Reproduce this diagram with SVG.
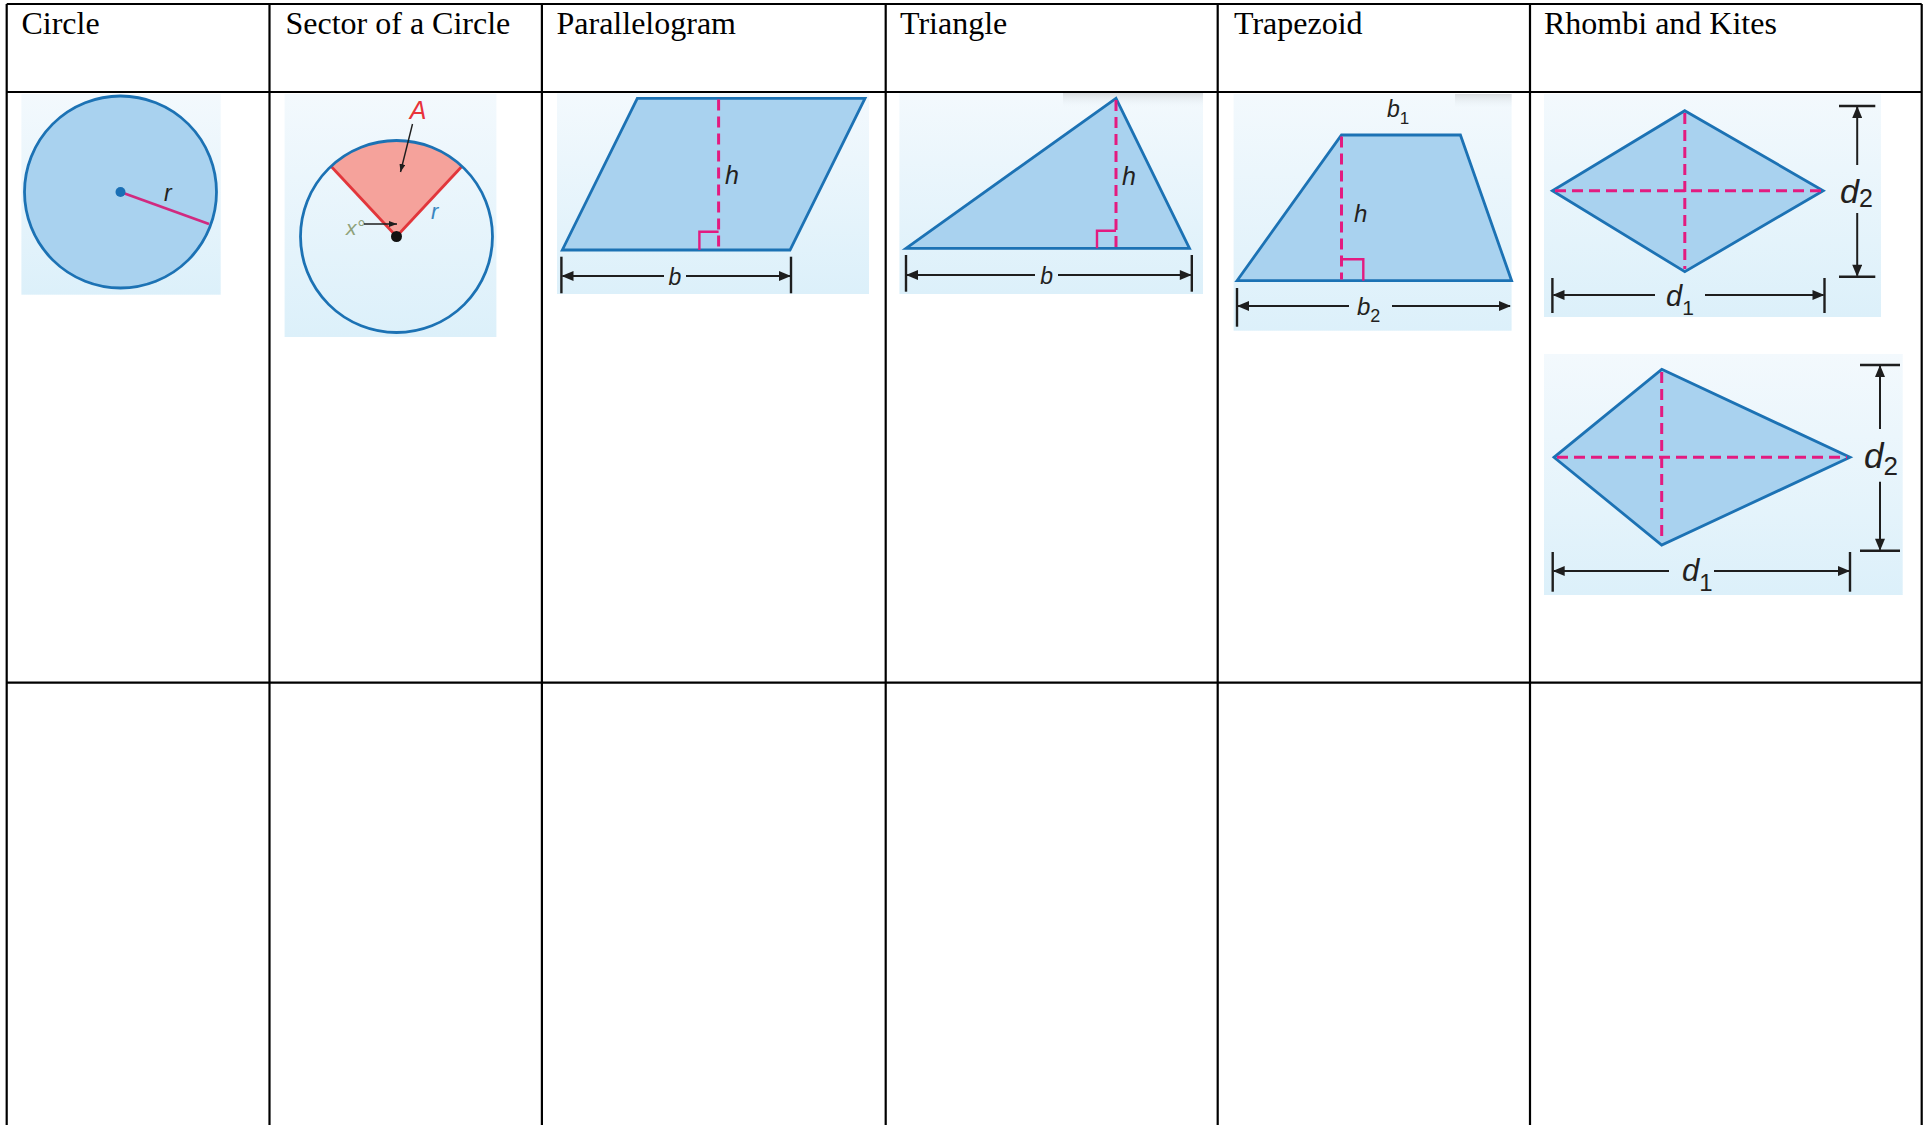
<svg xmlns="http://www.w3.org/2000/svg" width="1931" height="1125" viewBox="0 0 1931 1125">
<defs>
<linearGradient id="bg" x1="0" y1="0" x2="0" y2="1">
<stop offset="0" stop-color="#f3f9fd"/>
<stop offset="1" stop-color="#dcf0fa"/>
</linearGradient>
<linearGradient id="shadow" x1="0" y1="0" x2="0" y2="1">
<stop offset="0" stop-color="#d3d6d9" stop-opacity="0.8"/>
<stop offset="1" stop-color="#e8f2f8" stop-opacity="0"/>
</linearGradient>
<marker id="ah" viewBox="0 0 12 10" refX="11" refY="5" markerWidth="13" markerHeight="10" markerUnits="userSpaceOnUse" orient="auto-start-reverse">
<path d="M0,0 L12,5 L0,10 Z" fill="#1e1e1e"/>
</marker>
<marker id="ahs" viewBox="0 0 8 6" refX="8" refY="3" markerWidth="8" markerHeight="6" markerUnits="userSpaceOnUse" orient="auto">
<path d="M0,0 L8,3 L0,6 Z" fill="#1e1e1e"/>
</marker>
</defs>
<style>
.grid{stroke:#000;stroke-width:2.2;fill:none}
.hdr{font-family:"Liberation Serif","Times New Roman",serif;font-size:32px;fill:#000}
.shape{fill:#a9d2ef;stroke:#1c72b4;stroke-width:2.8;stroke-linejoin:miter}
.dash{stroke:#e31b80;stroke-width:3;stroke-dasharray:11 6;fill:none}
.ra{stroke:#e31b80;stroke-width:2.4;fill:none}
.dim{stroke:#1e1e1e;stroke-width:2;fill:none}
.tick{stroke:#1e1e1e;stroke-width:2.4}
.lbl{font-family:"Liberation Sans",Arial,sans-serif;font-style:italic;fill:#231f20}
</style>

<g id="table">
<line class="grid" x1="6.7" y1="4" x2="1921.7" y2="4"/>
<line class="grid" x1="6.7" y1="92" x2="1921.7" y2="92"/>
<line class="grid" x1="6.7" y1="682.7" x2="1921.7" y2="682.7"/>
<line class="grid" x1="6.7" y1="4" x2="6.7" y2="1125"/>
<line class="grid" x1="269.5" y1="4" x2="269.5" y2="1125"/>
<line class="grid" x1="541.9" y1="4" x2="541.9" y2="1125"/>
<line class="grid" x1="885.7" y1="4" x2="885.7" y2="1125"/>
<line class="grid" x1="1217.7" y1="4" x2="1217.7" y2="1125"/>
<line class="grid" x1="1530" y1="4" x2="1530" y2="1125"/>
<line class="grid" x1="1921.7" y1="4" x2="1921.7" y2="1125"/>
</g>

<g id="headers">
<text class="hdr" x="21.4" y="34">Circle</text>
<text class="hdr" x="285.5" y="34">Sector of a Circle</text>
<text class="hdr" x="556.5" y="34">Parallelogram</text>
<text class="hdr" x="900" y="34">Triangle</text>
<text class="hdr" x="1234" y="34">Trapezoid</text>
<text class="hdr" x="1544" y="34">Rhombi and Kites</text>
</g>

<g id="circle">
<rect x="21.4" y="94" width="199.3" height="200.7" fill="url(#bg)"/>
<circle class="shape" cx="120.5" cy="192" r="96"/>
<line x1="120.5" y1="192" x2="209" y2="224" stroke="#d12a80" stroke-width="2.8"/>
<circle cx="120.5" cy="192" r="5" fill="#1a6fb5"/>
<text class="lbl" x="164" y="201" font-size="23">r</text>
</g>

<g id="sector">
<rect x="284.6" y="94" width="211.8" height="243" fill="url(#bg)"/>
<path d="M396.5,236.5 L331,166.3 A96,96 0 0 1 462,166.3 Z" fill="#f5a29b"/>
<line x1="396.5" y1="236.5" x2="331" y2="166.3" stroke="#e2363b" stroke-width="2.8"/>
<line x1="396.5" y1="236.5" x2="462" y2="166.3" stroke="#e2363b" stroke-width="2.8"/>
<circle cx="396.5" cy="236.5" r="96" fill="none" stroke="#1c72b4" stroke-width="2.8"/>
<circle cx="396.5" cy="236.5" r="5.5" fill="#111"/>
<text class="lbl" x="418" y="119" font-size="25" style="fill:#e8333a" text-anchor="middle">A</text>
<line x1="412.5" y1="124" x2="400.5" y2="172" stroke="#1e1e1e" stroke-width="1.4" marker-end="url(#ahs)"/>
<text class="lbl" x="346" y="235" font-size="21" style="fill:#8fa27a">x°</text>
<line x1="364" y1="224" x2="397" y2="224" stroke="#1e1e1e" stroke-width="1.4" marker-end="url(#ahs)"/>
<text class="lbl" x="431" y="219" font-size="22" style="fill:#3a86c0">r</text>
</g>

<g id="parallelogram">
<rect x="557" y="93.3" width="312" height="200.7" fill="url(#bg)"/>
<polygon class="shape" points="637.3,98.3 865,98.3 790,250 562.3,250"/>
<line class="dash" x1="718.6" y1="99.5" x2="718.6" y2="249"/>
<polyline class="ra" points="699.4,250 699.4,231.7 718.6,231.7"/>
<text class="lbl" x="725" y="184" font-size="25">h</text>
<line class="tick" x1="561.4" y1="256.7" x2="561.4" y2="293.3"/>
<line class="tick" x1="791" y1="256.7" x2="791" y2="293.3"/>
<line class="dim" x1="562.5" y1="276" x2="664" y2="276" marker-start="url(#ah)"/>
<line class="dim" x1="686" y1="276" x2="790" y2="276" marker-end="url(#ah)"/>
<text class="lbl" x="675" y="285" font-size="23" text-anchor="middle">b</text>
</g>

<g id="triangle">
<rect x="899.4" y="93" width="303.6" height="201" fill="url(#bg)"/>
<rect x="1063" y="93" width="140" height="14" fill="url(#shadow)"/>
<polygon class="shape" points="906,248.3 1116,98.3 1189.5,248.3"/>
<line class="dash" x1="1116" y1="100" x2="1116" y2="247"/>
<polyline class="ra" points="1097,248.3 1097,230.7 1116,230.7"/>
<text class="lbl" x="1122" y="185" font-size="25">h</text>
<line class="tick" x1="906" y1="255" x2="906" y2="291.7"/>
<line class="tick" x1="1191.8" y1="255" x2="1191.8" y2="291.7"/>
<line class="dim" x1="907" y1="275" x2="1035" y2="275" marker-start="url(#ah)"/>
<line class="dim" x1="1058" y1="275" x2="1190.8" y2="275" marker-end="url(#ah)"/>
<text class="lbl" x="1046.7" y="284" font-size="23" text-anchor="middle">b</text>
</g>

<g id="trapezoid">
<rect x="1233.6" y="94" width="278" height="236.7" fill="url(#bg)"/>
<rect x="1455" y="94" width="56.6" height="14" fill="url(#shadow)"/>
<polygon class="shape" points="1237,280.7 1341.5,135 1460.4,135 1511.6,280.7"/>
<line class="dash" x1="1341.5" y1="136.5" x2="1341.5" y2="279.5"/>
<polyline class="ra" points="1341.5,259.3 1363.3,259.3 1363.3,280.7"/>
<text class="lbl" x="1354" y="222" font-size="24">h</text>
<text class="lbl" x="1387" y="117" font-size="23">b<tspan font-size="17" dy="7" font-style="normal">1</tspan></text>
<line class="tick" x1="1237" y1="288" x2="1237" y2="326.7"/>
<line class="dim" x1="1238" y1="306" x2="1349" y2="306" marker-start="url(#ah)"/>
<line class="dim" x1="1392" y1="306" x2="1510" y2="306" marker-end="url(#ah)"/>
<text class="lbl" x="1357" y="315" font-size="24">b<tspan font-size="18" dy="7" font-style="normal">2</tspan></text>
</g>

<g id="rhombus">
<rect x="1544" y="94" width="337" height="223" fill="url(#bg)"/>
<polygon class="shape" points="1684.8,110.7 1823.2,190.7 1684.8,271.7 1552.4,190.7"/>
<line class="dash" x1="1555" y1="190.7" x2="1821" y2="190.7"/>
<line class="dash" x1="1684.8" y1="113" x2="1684.8" y2="269"/>
<line class="tick" x1="1839" y1="106" x2="1875.3" y2="106"/>
<line class="tick" x1="1839" y1="276.7" x2="1875.3" y2="276.7"/>
<line class="dim" x1="1857.2" y1="107" x2="1857.2" y2="165" marker-start="url(#ah)"/>
<line class="dim" x1="1857.2" y1="213" x2="1857.2" y2="275.7" marker-end="url(#ah)"/>
<text class="lbl" x="1840" y="203" font-size="34">d<tspan font-size="25" dy="4" font-style="normal">2</tspan></text>
<line class="tick" x1="1552.4" y1="278" x2="1552.4" y2="313"/>
<line class="tick" x1="1824.5" y1="278" x2="1824.5" y2="313"/>
<line class="dim" x1="1553.5" y1="295" x2="1655" y2="295" marker-start="url(#ah)"/>
<line class="dim" x1="1705" y1="295" x2="1823.5" y2="295" marker-end="url(#ah)"/>
<text class="lbl" x="1666" y="306" font-size="29">d<tspan font-size="21" dy="9" font-style="normal">1</tspan></text>
</g>

<g id="kite">
<rect x="1544" y="354" width="358.7" height="241" fill="url(#bg)"/>
<polygon class="shape" points="1661.7,369.3 1850,457.3 1661.7,545 1554,457.3"/>
<line class="dash" x1="1557" y1="457.3" x2="1847" y2="457.3"/>
<line class="dash" x1="1661.7" y1="372" x2="1661.7" y2="542"/>
<line class="tick" x1="1860" y1="365" x2="1900" y2="365"/>
<line class="tick" x1="1860" y1="550.7" x2="1900" y2="550.7"/>
<line class="dim" x1="1880" y1="366" x2="1880" y2="429" marker-start="url(#ah)"/>
<line class="dim" x1="1880" y1="481.7" x2="1880" y2="549.7" marker-end="url(#ah)"/>
<text class="lbl" x="1864" y="468" font-size="35">d<tspan font-size="26" dy="7" font-style="normal">2</tspan></text>
<line class="tick" x1="1552.7" y1="552" x2="1552.7" y2="591.7"/>
<line class="tick" x1="1850" y1="552" x2="1850" y2="591.7"/>
<line class="dim" x1="1553.7" y1="571" x2="1669" y2="571" marker-start="url(#ah)"/>
<line class="dim" x1="1714" y1="571" x2="1849" y2="571" marker-end="url(#ah)"/>
<text class="lbl" x="1682" y="581" font-size="31">d<tspan font-size="24" dy="10" font-style="normal">1</tspan></text>
</g>
</svg>
